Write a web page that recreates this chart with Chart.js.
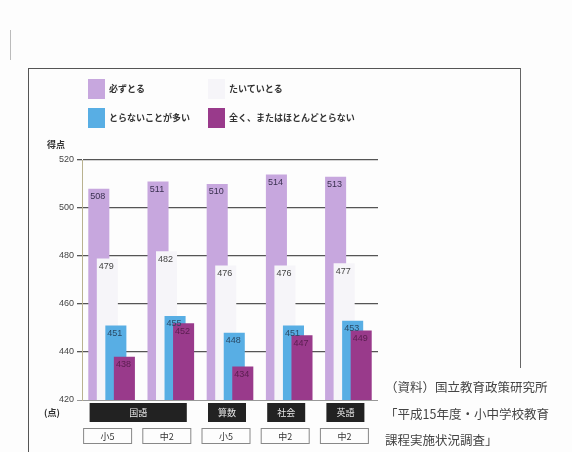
<!DOCTYPE html>
<html lang="ja">
<head>
<meta charset="utf-8">
<script src="https://cdn.jsdelivr.net/npm/chart.js@4.4.1/dist/chart.umd.min.js"></script>
<style>
  html, body { margin: 0; padding: 0; background: #fdfdfd; }
  body { width: 572px; height: 452px; position: relative; overflow: hidden;
         font-family: "Noto Sans CJK JP", "Noto Sans", sans-serif; color: #333; }
  #frame { position: absolute; left: 28px; top: 68px; width: 492px; height: 400px;
           border-top: 1.5px solid #555; border-left: 1.5px solid #555; }
  #frameR { position: absolute; left: 520px; top: 68px; width: 0; height: 300px;
            border-left: 1.5px solid #666; }
  #scan { position: absolute; left: 10px; top: 30px; width: 0; height: 30px; border-left: 1px solid #bbb; }
  #chart { position: absolute; left: 0; top: 0; }
  .leg { position: absolute; font-size: 9px; font-weight: bold; line-height: 20px; height: 20px; }
  .leg i { display: inline-block; width: 17px; height: 20px; vertical-align: top; margin-right: 4px; }
  .axisname { position: absolute; font-size: 9px; font-weight: bold; color: #333; }
  #source { position: absolute; left: 385px; top: 374px; font-size: 12.5px; line-height: 26.5px; color: #444; white-space: nowrap; }
</style>
</head>
<body>
<div id="scan"></div>
<div id="frame"></div>
<div id="frameR"></div>
<canvas id="chart" width="572" height="452"></canvas>
<div id="legend"></div>
<div class="axisname" style="left:47px; top:138px;">得点</div>
<div class="axisname" style="left:44px; top:406px;">(点)</div>
<div id="source">（資料）国立教育政策研究所<br>「平成15年度・小中学校教育<br>課程実施状況調査」</div>
<script>
const subjects = ['国語', '国語', '算数', '社会', '英語'];
const grades = ['小5', '中2', '小5', '中2', '中2'];
const seriesNames = ['必ずとる', 'たいていとる', 'とらないことが多い', '全く、またはほとんどとらない'];
const always = [508, 511, 510, 514, 513];
const usually = [479, 482, 476, 476, 477];
const rarely = [451, 455, 448, 451, 453];
const never = [438, 452, 434, 447, 449];
const yTicks = [420, 440, 460, 480, 500, 520];

const colors = ['#c7a7de', '#f6f5f9', '#58aee4', '#993a8b'];
const labelColors = ['#3a3050', '#444', '#2a4a66', '#5a1e50'];

// legend: 2 columns x 2 rows
const legPos = [[88, 79], [208, 79], [88, 108], [208, 108]];
const legend = document.getElementById('legend');
seriesNames.forEach((name, i) => {
    const d = document.createElement('div');
    d.className = 'leg';
    d.style.left = legPos[i][0] + 'px';
    d.style.top = legPos[i][1] + 'px';
    d.innerHTML = `<i style="background:${colors[i]}"></i>${name}`;
    legend.appendChild(d);
});

// draw datasets in index order so the right-hand bar lies on top
const drawOrder = {
    id: 'drawOrder',
    beforeDatasetsDraw(chart) {
        const ctx = chart.ctx, a = chart.chartArea;
        ctx.save();
        ctx.beginPath();
        ctx.rect(a.left, a.top, a.width, a.height);
        ctx.clip();
        for (let i = 0; i < chart.data.datasets.length; i++) {
            chart.getDatasetMeta(i).controller.draw();
        }
        ctx.restore();
        return false;
    }
};

const valueLabels = {
    id: 'valueLabels',
    afterDraw(chart) {
        const ctx = chart.ctx;
        ctx.save();
        ctx.font = '9px "Liberation Sans", sans-serif';
        ctx.textAlign = 'center';
        ctx.textBaseline = 'middle';
        chart.data.datasets.forEach((ds, i) => {
            ctx.fillStyle = labelColors[i];
            chart.getDatasetMeta(i).data.forEach((el, j) => {
                ctx.fillText(ds.data[j], el.x - 1, el.y + 8);
            });
        });
        ctx.restore();
    }
};

// subject and grade boxes under the plot, placed from the x scale
const categoryBoxes = {
    id: 'categoryBoxes',
    afterDraw(chart) {
        const ctx = chart.ctx;
        const x = chart.scales.x;
        ctx.save();
        ctx.textAlign = 'center';
        ctx.textBaseline = 'middle';
        // subject row (black)
        let start = 0;
        for (let i = 1; i <= subjects.length; i++) {
            if (i === subjects.length || subjects[i] !== subjects[start]) {
                const l = x.getPixelForValue(start) - 22;
                const r = x.getPixelForValue(i - 1) + 16;
                ctx.fillStyle = '#222';
                ctx.fillRect(l, 403, r - l, 19);
                ctx.fillStyle = '#e8e8e8';
                ctx.font = '9px "Noto Sans CJK JP", sans-serif';
                ctx.fillText(subjects[start], (l + r) / 2, 412.5);
                start = i;
            }
        }
        // grade row (outlined)
        grades.forEach((g, i) => {
            const c = x.getPixelForValue(i) - 4;
            ctx.strokeStyle = '#888';
            ctx.lineWidth = 1;
            ctx.strokeRect(c - 24, 428.5, 48, 15);
            ctx.fillStyle = '#333';
            ctx.font = '9px "Noto Sans CJK JP", sans-serif';
            ctx.fillText(g, c, 436.5);
        });
        ctx.restore();
    }
};

new Chart(document.getElementById('chart'), {
    type: 'bar',
    data: {
        labels: subjects.map((s, i) => s + grades[i]),
        datasets: [
            { label: seriesNames[0], data: always, backgroundColor: colors[0] },
            { label: seriesNames[1], data: usually, backgroundColor: colors[1] },
            { label: seriesNames[2], data: rarely, backgroundColor: colors[2] },
            { label: seriesNames[3], data: never, backgroundColor: colors[3] }
        ]
    },
    options: {
        responsive: false,
        animation: false,
        layout: { padding: { left: 42, right: 194, top: 160, bottom: 52 } },
        datasets: {
            bar: { categoryPercentage: 0.576, barPercentage: 2.47, borderWidth: 0 }
        },
        plugins: {
            legend: { display: false },
            tooltip: { enabled: false }
        },
        scales: {
            x: { display: false },
            y: {
                min: 420,
                max: 520,
                afterFit(scale) { scale.width = 40; },
                afterBuildTicks(scale) { scale.ticks = yTicks.map(v => ({ value: v })); },
                border: { color: '#b9b28f', width: 1 },
                grid: {
                    color: ctx => ctx.tick && ctx.tick.value === 420 ? '#999' : '#555',
                    lineWidth: ctx => ctx.tick && ctx.tick.value === 420 ? 1 : 1.3,
                    tickLength: 5
                },
                ticks: {
                    color: '#444',
                    padding: 3,
                    font: { family: 'Liberation Sans', size: 9 }
                }
            }
        }
    },
    plugins: [drawOrder, valueLabels, categoryBoxes]
});
</script>
</body>
</html>
